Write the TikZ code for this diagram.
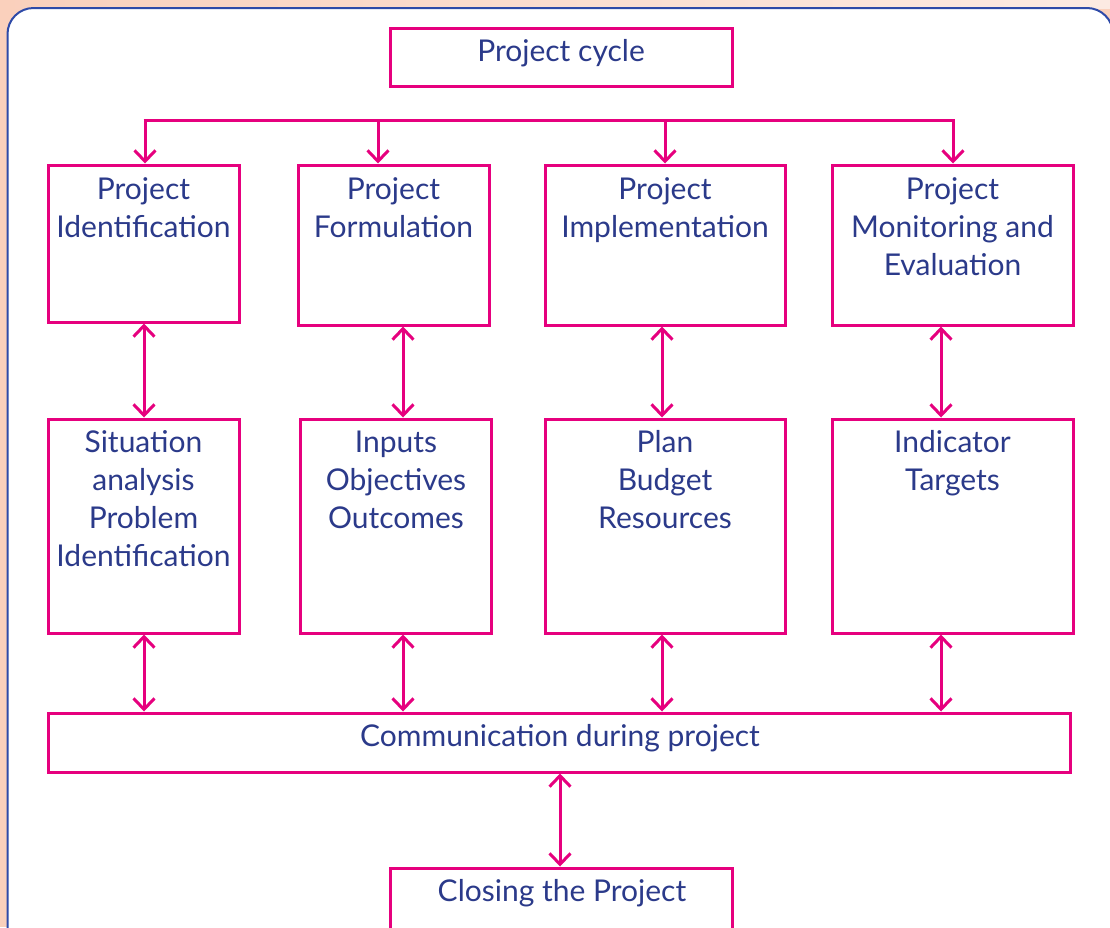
\documentclass[tikz,border=0pt]{standalone}
\usepackage{fontspec}
\setmainfont{Lato}
\usetikzlibrary{arrows.meta}
\definecolor{pk}{HTML}{E6007E}
\definecolor{tb}{HTML}{2B3A8A}
\definecolor{peach}{HTML}{FAD0BC}
\definecolor{peachlight}{HTML}{FCEAE2}
\definecolor{bord}{HTML}{2E4AA8}
\begin{document}
\begin{tikzpicture}[x=1pt,y=-1pt,
  box/.style={draw=pk, line width=3pt, inner sep=0pt, fill=white},
  txt/.style={text=tb, font=\fontsize{30}{38.3}\selectfont, align=center, inner sep=0pt, anchor=base},
  link/.style={draw=pk, line width=3pt},
  arr/.style={link, -{Straight Barb[length=11pt,width=21pt]}},
  dbl/.style={link, {Straight Barb[length=11pt,width=21pt]}-{Straight Barb[length=11pt,width=21pt]}}
]
\useasboundingbox (0,0) rectangle (1110,927);
\clip (0,0) rectangle (1110,927);
% background
\fill[peach] (0,0) rectangle (1110,927);
\shade[left color=peach, right color=peachlight] (0,0) rectangle (1110,8);
\filldraw[fill=white, draw=bord, line width=2pt, rounded corners=26pt]
  (7.5,8) -- (1113,8) -- (1113,990) -- (7.5,990) -- cycle;

% boxes
\node[box, minimum width=342pt, minimum height=58pt] (cyc) at (561,57) {};
\node[box, minimum width=191pt, minimum height=157pt] (b1) at (143.5,243.5) {};
\node[box, minimum width=191pt, minimum height=160pt] (b2) at (393.5,245) {};
\node[box, minimum width=240pt, minimum height=160pt] (b3) at (665,245) {};
\node[box, minimum width=241pt, minimum height=160pt] (b4) at (952.5,245) {};
\node[box, minimum width=191pt, minimum height=214pt] (c1) at (143.5,526) {};
\node[box, minimum width=191pt, minimum height=214pt] (c2) at (395.5,526) {};
\node[box, minimum width=240pt, minimum height=214pt] (c3) at (665,526) {};
\node[box, minimum width=241pt, minimum height=214pt] (c4) at (952.5,526) {};
\node[box, minimum width=1022pt, minimum height=59pt] (com) at (559,742.5) {};
\node[box, minimum width=342pt, minimum height=90pt] (clo) at (561,913) {};

% texts (anchored at the baseline of the last line)
\node[txt] (tcyc) at (561,61) {Project cycle};
\node[txt] (tb1) at (143.5,237.3) {Project\\Identification};
\node[txt] (tb2) at (393.5,237.3) {Project\\Formulation};
\node[txt] (tb3) at (665,237.3) {Project\\Implementation};
\node[txt] (tb4) at (952.5,275.6) {Project\\Monitoring and\\Evaluation};
\node[txt] (tc1) at (143.5,566.9) {Situation\\analysis\\Problem\\Identification};
\node[txt] (tc2) at (396,528.6) {Inputs\\Objectives\\Outcomes};
\node[txt] (tc3) at (665,528.6) {Plan\\Budget\\Resources};
\node[txt] (tc4) at (952.5,490.3) {Indicator\\Targets};
\node[txt] (tcom) at (560,746) {Communication during project};
\node[txt] (tclo) at (562,901) {Closing the Project};

% bus
\coordinate (k1) at (145,120);
\coordinate (k2) at (378,120);
\coordinate (k3) at (665,120);
\coordinate (k4) at (953,120);
\draw[arr] ([yshift=-1.5pt]k1) -- (b1.north -| k1);
\draw[arr] (k2) -- (b2.north -| k2);
\draw[arr] (k3) -- (b3.north -| k3);
\draw[arr] ([yshift=-1.5pt]k4) -- (b4.north -| k4);
\draw[link] ([xshift=-1.5pt]k1) -- ([xshift=1.5pt]k4);

% vertical links
\coordinate (x1) at (144,0);
\coordinate (x2) at (403,0);
\coordinate (x3) at (662,0);
\coordinate (x4) at (941,0);
\draw[dbl] (b1.south -| x1) -- (c1.north -| x1);
\draw[dbl] (b2.south -| x2) -- (c2.north -| x2);
\draw[dbl] (b3.south -| x3) -- (c3.north -| x3);
\draw[dbl] (b4.south -| x4) -- (c4.north -| x4);
\draw[dbl] (c1.south -| x1) -- (com.north -| x1);
\draw[dbl] (c2.south -| x2) -- (com.north -| x2);
\draw[dbl] (c3.south -| x3) -- (com.north -| x3);
\draw[dbl] (c4.south -| x4) -- (com.north -| x4);
\coordinate (x5) at (560,0);
\draw[dbl] (com.south -| x5) -- (clo.north -| x5);
\end{tikzpicture}
\end{document}
